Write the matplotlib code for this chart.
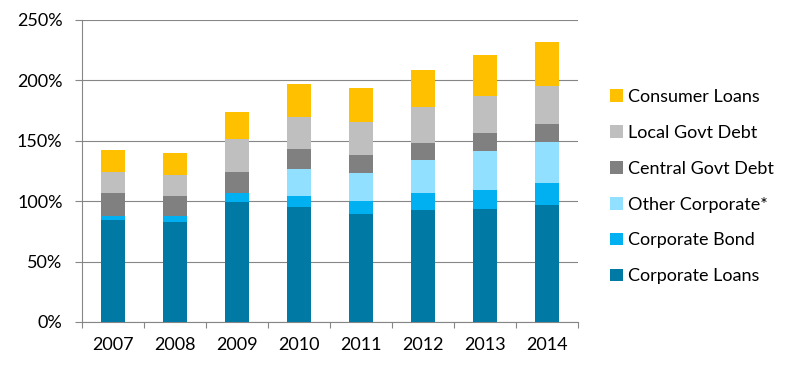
import numpy as np
import matplotlib
matplotlib.use("Agg")
from matplotlib import pyplot as plt
from matplotlib.patches import Patch
from matplotlib.ticker import FuncFormatter

years = ["2007", "2008", "2009", "2010", "2011", "2012", "2013", "2014"]
corporate_loans = [84.5, 82.9, 99.4, 95.3, 89.5, 92.8, 93.6, 97.0]
corporate_bond = [3.3, 4.9, 7.2, 9.1, 10.8, 14.1, 15.8, 18.2]
other_corporate = [0, 0, 0, 22.4, 23.2, 27.4, 32.3, 34.0]
central_govt = [19.1, 16.6, 17.7, 16.6, 14.9, 14.0, 14.9, 14.9]
local_govt = [17.4, 17.4, 26.8, 26.5, 27.3, 29.9, 30.7, 31.5]
consumer_loans = [18.2, 18.3, 22.9, 27.3, 28.2, 30.6, 34.0, 36.4]

series = [
    ("Corporate Loans", corporate_loans, "#0079A5"),
    ("Corporate Bond", corporate_bond, "#00B0F0"),
    ("Other Corporate*", other_corporate, "#92E0FF"),
    ("Central Govt Debt", central_govt, "#808080"),
    ("Local Govt Debt", local_govt, "#BFBFBF"),
    ("Consumer Loans", consumer_loans, "#FFC000"),
]

plt.rcParams['font.family'] = ['Lato', 'DejaVu Sans']
plt.rcParams['font.size'] = 13

fig = plt.figure(figsize=(7.88, 3.69), dpi=100)
ax = fig.add_axes([82 / 788, 1 - 322 / 369, (578 - 82) / 788, (322 - 20) / 369])

x = np.arange(len(years))
bottom = np.zeros(len(years))
for name, vals, color in series:
    ax.bar(x, vals, width=0.4, bottom=bottom, color=color, zorder=3, linewidth=0)
    bottom += np.array(vals)

grid_col = "#868686"
ax.set_ylim(0, 250)
ax.set_yticks(np.arange(0, 251, 50))
ax.yaxis.set_major_formatter(FuncFormatter(lambda v, p: f"{int(v)}%"))
ax.yaxis.grid(True, color=grid_col, linewidth=0.8, zorder=0)
ax.set_xlim(-0.5, len(years) - 0.5)
ax.set_xticks(x)
ax.set_xticklabels(years)
ax.set_xticks(np.arange(-0.5, len(years)), minor=True)
ax.tick_params(axis="x", which="major", length=0, pad=11)
ax.tick_params(axis="x", which="minor", length=4.5, color=grid_col, width=0.8)
ax.tick_params(axis="y", length=5, color=grid_col, width=0.8, pad=9)

for s in ["top", "right"]:
    ax.spines[s].set_visible(False)
for s in ["left", "bottom"]:
    ax.spines[s].set_color(grid_col)
    ax.spines[s].set_linewidth(0.8)

handles = [Patch(facecolor=c, label=n) for n, _, c in series][::-1]
fig.legend(handles=handles, loc="upper left", bbox_to_anchor=(610 / 788, 1 - 89 / 369),
           frameon=False, handlelength=0.7, handleheight=0.7, handletextpad=0.3,
           labelspacing=1.1, borderaxespad=0, borderpad=0)

fig.savefig("out.png", dpi=100)
